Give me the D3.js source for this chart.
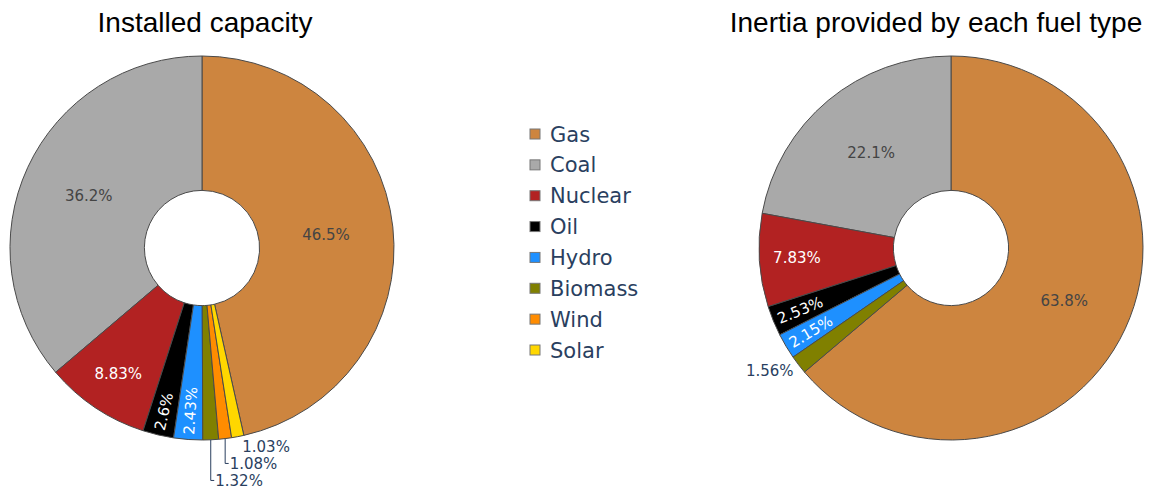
<!DOCTYPE html>
<html>
<head>
<meta charset="utf-8">
<script src="https://cdn.jsdelivr.net/npm/d3@7"></script>
<style>
  html, body { margin: 0; padding: 0; background: #fff; }
  svg { display: block; }
</style>
</head>
<body>
<svg id="chart" width="1151" height="490"></svg>
<script>
// ---- Data ----
const categories = ["Gas", "Coal", "Nuclear", "Oil", "Hydro", "Biomass", "Wind", "Solar"];
const sliceColors = ["#CD853F", "#A9A9A9", "#B22222", "#000000", "#1E90FF", "#808000", "#FF8C00", "#FFD700"];
const capacityValues = [46.5, 36.2, 8.83, 2.6, 2.43, 1.32, 1.08, 1.03];
const inertiaValues = [63.8, 22.1, 7.83, 2.53, 2.15, 1.56, 0, 0];
const chartTitles = ["Installed capacity", "Inertia provided by each fuel type"];

// ---- Layout ----
const W = 1151, H = 490;
const svg = d3.select("#chart");
const R = 192, holeFrac = 0.3;
const labelFont = "'DejaVu Sans', Verdana, sans-serif";
const labelSize = 15;
const fontColor = "#2a3f5f";
const fmt = d3.format(".3~r");

function isLight(c) {
  const rgb = d3.rgb(c);
  return (rgb.r * 299 + rgb.g * 587 + rgb.b * 114) / 1000 >= 128;
}

function drawDonut(cx, cy, values, title, titleX) {
  const total = d3.sum(values);
  const data = categories.map((c, i) => ({ cat: c, value: values[i], color: sliceColors[i], frac: values[i] / total }));
  const a0 = 2 * Math.PI * data[0].frac;
  const pie = d3.pie().sort(null).value(d => d.value).startAngle(a0).endAngle(a0 - 2 * Math.PI);
  const arcs = pie(data).filter(a => a.data.value > 0);
  const r0 = R * holeFrac;
  const arc = d3.arc().innerRadius(r0).outerRadius(R);

  const g = svg.append("g").attr("transform", `translate(${cx},${cy})`);
  g.selectAll("path.slice").data(arcs).join("path")
    .attr("class", "slice")
    .attr("d", arc)
    .attr("fill", d => d.data.color)
    .attr("stroke", "#4a4a4a")
    .attr("stroke-width", 1)
    .attr("stroke-linejoin", "round");

  function midAngle(a) {
    let m = (a.startAngle + a.endAngle) / 2;
    m = ((m % (2 * Math.PI)) + 2 * Math.PI) % (2 * Math.PI);
    return m;
  }

  const outside = [];
  arcs.forEach(a => {
    const th = midAngle(a);
    const half = Math.abs(a.endAngle - a.startAngle) / 2;
    const txt = fmt(a.data.frac * 100) + "%";
    const col = isLight(a.data.color) ? "#444" : "#fff";
    if (a.data.frac >= 0.05) {
      // centre of the largest circle inscribed in the ring sector
      const s = Math.sin(half);
      const rIns = Math.min(s / (1 + s), (1 - holeFrac) / 2);
      const rm = R * (1 - rIns);
      g.append("text")
        .attr("x", rm * Math.sin(th)).attr("y", -rm * Math.cos(th))
        .attr("dy", "0.36em").attr("text-anchor", "middle")
        .attr("font-family", labelFont).attr("font-size", labelSize)
        .attr("fill", col).text(txt);
    } else if (a.data.frac >= 0.02) {
      const t = g.append("text")
        .attr("dy", "0.36em").attr("text-anchor", "middle")
        .attr("font-family", labelFont).attr("font-size", labelSize)
        .attr("fill", col).text(txt);
      const len = t.node().getComputedTextLength();
      const rm = R - len / 2 - 5;
      const deg = th * 180 / Math.PI;
      const rot = deg > 180 ? deg - 270 : deg - 90;
      t.attr("transform", `translate(${rm * Math.sin(th)},${-rm * Math.cos(th)}) rotate(${rot})`);
    } else {
      outside.push({ a, th, txt });
    }
  });

  let prevY = -Infinity;
  outside.sort((p, q) => p.th - q.th);
  outside.forEach(o => {
    const ex = R * Math.sin(o.th), ey = -R * Math.cos(o.th);
    const natY = ey - 10 * Math.cos(o.th);
    const y = Math.max(natY, prevY + 17);
    const right = o.th < Math.PI;
    const tx = right ? ex + 4.5 : ex - 5;
    if (y - natY > 1) {
      g.append("path")
        .attr("d", `M${ex},${ey}V${y}H${right ? tx - 1 : tx + 1}`)
        .attr("fill", "none").attr("stroke", fontColor).attr("stroke-width", 1);
    }
    g.append("text")
      .attr("x", tx).attr("y", y).attr("dy", "0.36em")
      .attr("text-anchor", right ? "start" : "end")
      .attr("font-family", labelFont).attr("font-size", labelSize)
      .attr("fill", fontColor).text(o.txt);
    prevY = y;
  });

  svg.append("text")
    .attr("x", titleX).attr("y", 32)
    .attr("text-anchor", "middle")
    .attr("font-family", "'Liberation Sans', Arial, sans-serif")
    .attr("font-size", 28)
    .attr("fill", "#000")
    .text(title);
}

drawDonut(202, 248, capacityValues, chartTitles[0], 205);
drawDonut(951, 248, inertiaValues, chartTitles[1], 936);

// ---- Legend ----
const legend = svg.append("g");
const yLeg = d3.scalePoint().domain(categories).range([134, 350]);
categories.forEach((c, i) => {
  const y = yLeg(c);
  legend.append("rect")
    .attr("x", 530).attr("y", y - 5).attr("width", 10).attr("height", 10)
    .attr("fill", sliceColors[i]).attr("stroke", "#777").attr("stroke-width", 1);
  legend.append("text")
    .attr("x", 550).attr("y", y).attr("dy", "0.36em")
    .attr("font-family", labelFont).attr("font-size", 21)
    .attr("fill", fontColor).text(c);
});
</script>
</body>
</html>
